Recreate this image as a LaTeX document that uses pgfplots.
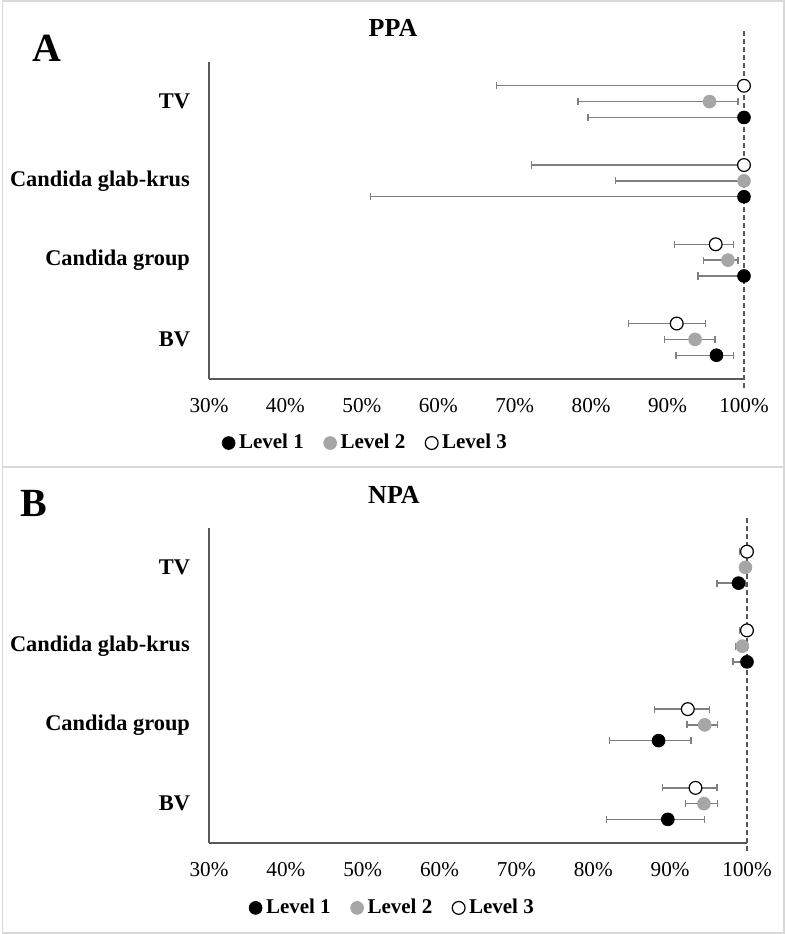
\documentclass[border=0pt]{standalone}
\usepackage{pgfplots}
\usepackage{pgfplotstable}
\pgfplotsset{compat=1.18}
\usepackage{fontspec}
\setmainfont{Liberation Serif}
\definecolor{lvtwo}{HTML}{A6A6A6}
\definecolor{errc}{HTML}{7F7F7F}
\definecolor{axc}{HTML}{595959}
\definecolor{framec}{HTML}{D9D9D9}

% PPA data: y  x  ep (plus)  em (minus)
\pgfplotstableread{
y   x     ep   em
0.8 96.4  2.2  5.3
1.8 100   0    6.0
2.8 100   0    48.9
3.8 100   0    20.4
}\ppaA
\pgfplotstableread{
y   x     ep   em
1   93.6  2.6  4.0
2   97.9  1.3  3.2
3   100   0    16.8
4   95.5  3.7  17.2
}\ppaB
\pgfplotstableread{
y   x     ep   em
1.2 91.2  3.8  6.3
2.2 96.3  2.3  5.4
3.2 100   0    27.8
4.2 100   0    32.4
}\ppaC
% NPA data
\pgfplotstableread{
y   x     ep   em
0.8 89.7  4.8  8.0
1.8 88.5  4.2  6.4
2.8 100   0    1.8
3.8 98.9  0.9  2.8
}\npaA
\pgfplotstableread{
y   x     ep   em
1   94.4  1.8  2.4
2   94.5  1.7  2.3
3   99.4  0.6  0.9
4   99.8  0.2  0.5
}\npaB
\pgfplotstableread{
y   x     ep   em
1.2 93.3  2.8  4.3
2.2 92.3  2.8  4.3
3.2 100   0    1.0
4.2 100   0    1.0
}\npaC

\pgfplotsset{
  forest/.style={
    scale only axis,
    xmin=30, xmax=100, ymin=0.5, ymax=4.5,
    axis x line*=bottom, axis y line*=left,
    axis line style={axc, line width=0.6pt, -},
    xtick={30,40,...,100},
    xticklabels={30\%,40\%,50\%,60\%,70\%,80\%,90\%,100\%},
    ytick={1,2,3,4},
    yticklabels={BV,Candida group,Candida glab-krus,TV},
    major tick length=0pt,
    xticklabel style={font=\fontsize{10.6}{12}\selectfont, yshift=-6pt},
    yticklabel style={font=\bfseries\fontsize{11.2}{13}\selectfont, xshift=-6pt},
    clip=false,
    legend columns=3,
    legend style={draw=none, fill=none, inner sep=0pt,
      font=\bfseries\fontsize{10.5}{12}\selectfont,
      /tikz/every even column/.append style={column sep=8pt}},
    legend image code/.code={\draw[mark repeat=2,mark phase=2,##1] plot coordinates {(0cm,0cm) (0.12cm,0cm) (0.24cm,0cm)};},
  },
  ebar/.style={only marks, mark=none, forget plot,
    error bars/.cd, x dir=both, x explicit,
    error bar style={errc, line width=0.7pt},
    error mark options={errc, line width=0.7pt, mark size=1.8pt, rotate=90}},
  lone/.style={only marks, mark=*, mark size=3.2pt, mark options={draw=black, fill=black}},
  ltwo/.style={only marks, mark=*, mark size=3.2pt, mark options={draw=lvtwo, fill=lvtwo}},
  lthree/.style={only marks, mark=*, mark size=3.2pt, mark options={draw=black, fill=white, line width=0.6pt}},
}

\begin{document}
\begin{tikzpicture}
\useasboundingbox (0,0) rectangle (393.5pt,467pt);
\draw[framec, line width=0.6pt] (1.2pt,233.5pt) rectangle (392pt,466.5pt);
\draw[framec, line width=0.6pt] (1.2pt,0.5pt) rectangle (392pt,233.5pt);
\node at (23.5pt,443pt) {\bfseries\fontsize{20}{24}\selectfont A};
\node at (196.5pt,453pt) {\bfseries\fontsize{13}{15}\selectfont PPA};

\begin{axis}[forest, width=267.5pt, height=158.5pt, at={(104.5pt,277.5pt)}, anchor=south west,
  legend style={at={(0.024,-0.202)}, anchor=west}]
\addplot[ebar] table[x=x, y=y, x error plus=ep, x error minus=em] {\ppaA};
\addplot[ebar] table[x=x, y=y, x error plus=ep, x error minus=em] {\ppaB};
\addplot[ebar] table[x=x, y=y, x error plus=ep, x error minus=em] {\ppaC};
\addplot[lone] table[x=x, y=y] {\ppaA};
\addplot[ltwo] table[x=x, y=y] {\ppaB};
\addplot[lthree] table[x=x, y=y] {\ppaC};
\addplot[forget plot, axc, line width=0.6pt, dash pattern=on 2.5pt off 1.5pt] coordinates {(100,0.39) (100,4.9)};
\legend{Level 1, Level 2, Level 3}
\end{axis}

\node at (17pt,215.5pt) {\bfseries\fontsize{20}{24}\selectfont B};
\node at (197pt,219.5pt) {\bfseries\fontsize{13}{15}\selectfont NPA};

\begin{axis}[forest, width=269pt, height=157.5pt, at={(104.5pt,45.5pt)}, anchor=south west,
  legend style={at={(0.074,-0.206)}, anchor=west}]
\addplot[ebar] table[x=x, y=y, x error plus=ep, x error minus=em] {\npaA};
\addplot[ebar] table[x=x, y=y, x error plus=ep, x error minus=em] {\npaB};
\addplot[ebar] table[x=x, y=y, x error plus=ep, x error minus=em] {\npaC};
\addplot[lone] table[x=x, y=y] {\npaA};
\addplot[ltwo] table[x=x, y=y] {\npaB};
\addplot[lthree] table[x=x, y=y] {\npaC};
\addplot[forget plot, axc, line width=0.6pt, dash pattern=on 2.5pt off 1.5pt] coordinates {(100,0.4) (100,4.64)};
\legend{Level 1, Level 2, Level 3}
\end{axis}
\end{tikzpicture}
\end{document}
